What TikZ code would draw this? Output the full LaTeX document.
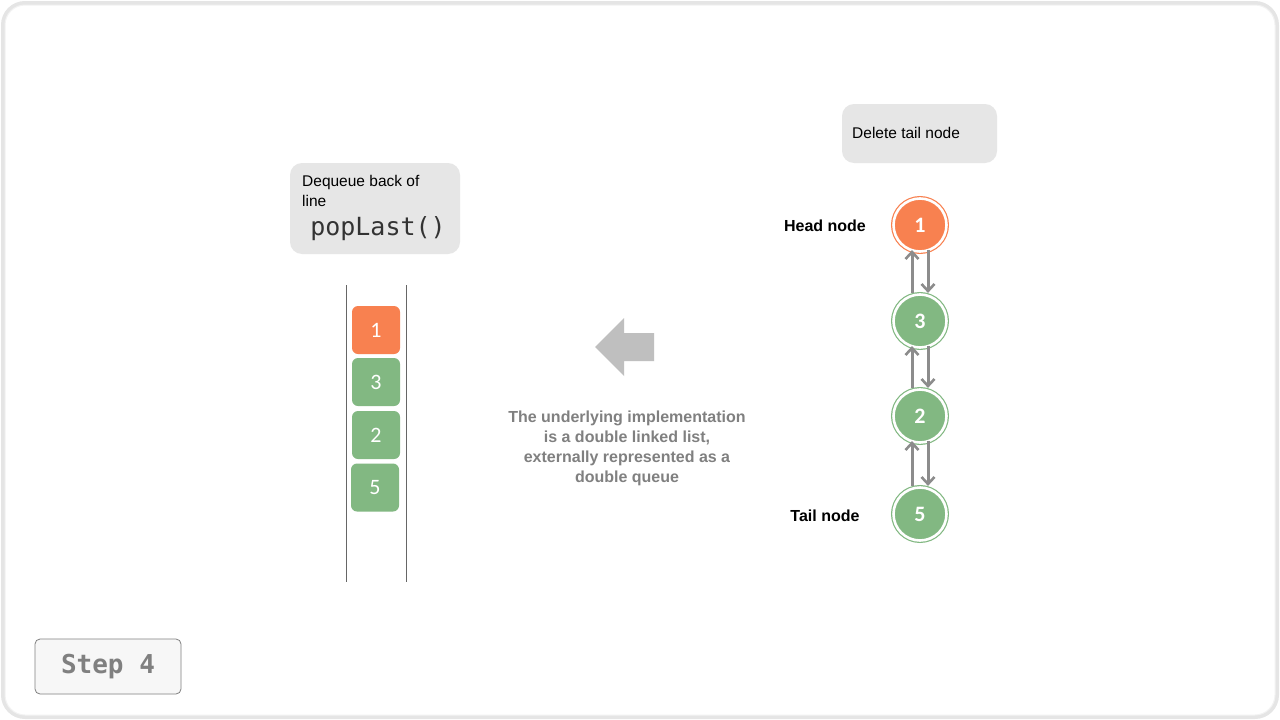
\documentclass[tikz,border=0pt]{standalone}
\usepackage{fontspec}
\setmainfont{Liberation Sans}
\setmonofont{DejaVu Sans Mono}
\newfontfamily\numfont{Carlito}
\usetikzlibrary{arrows.meta}
\definecolor{orng}{HTML}{F88150}
\definecolor{grn}{HTML}{82B882}
\definecolor{boxgray}{HTML}{E6E6E6}
\definecolor{txtgray}{HTML}{808080}
\definecolor{arrgray}{HTML}{8C8C8C}
\tikzset{
  note/.style={fill=boxgray, rounded corners=12pt, draw=none},
  stackbox/.style={rounded corners=6pt, minimum width=48pt, minimum height=48pt, inner sep=0pt, text=white, font=\numfont\fontsize{22}{24}\selectfont},
  lnode/.style={circle, minimum size=53pt, inner sep=0pt, line width=1.2pt, double=white, double distance=2.6pt, text=white, font=\numfont\bfseries\fontsize{22}{24}\selectfont},
  link/.style={draw=arrgray, line width=3pt, -{Straight Barb[length=7pt,width=13pt,line width=2.6pt]}},
  lbl/.style={font=\bfseries\fontsize{16}{19}\selectfont, text=black},
}
\begin{document}
\begin{tikzpicture}[x=1pt,y=-1pt]
\useasboundingbox (0,0) rectangle (1280,720);
% frame
\draw[draw=black!10, line width=4pt, rounded corners=22pt] (3,3) rectangle (1277,717);
\draw[draw=black!5, line width=1pt, fill=white, rounded corners=20pt] (5,5) rectangle (1275,715);

% Dequeue note
\draw[note] (290,163) rectangle (460,254);
\node[anchor=west, align=left, inner sep=0pt, font=\fontsize{15.5}{20}\selectfont] (dq) at (302,191) {Dequeue back of\\line};
\node[font=\ttfamily\fontsize{25}{28}\selectfont, text=black!80, inner sep=0pt] (pl) at (378,228.5) {popLast()};

% stack walls
\draw[draw=black!60, line width=1pt] (346,285) coordinate (wl1) -- (346,582) coordinate (wl2);
\draw[draw=black!60, line width=1pt] (406,285) coordinate (wr1) -- (406,582) coordinate (wr2);

% stack elements
\node[stackbox, fill=orng] (s1) at (376,330) {1};
\node[stackbox, fill=grn] (s3) at (376,382) {3};
\node[stackbox, fill=grn] (s2) at (376,435) {2};
\node[stackbox, fill=grn] (s5) at (375,487.5) {5};

% big arrow
\fill[black!25] (595,347) -- (624,318) -- (624,333) -- (654,333) -- (654,361) -- (624,361) -- (624,376) -- cycle;

% description
\node[align=center, text=txtgray, font=\bfseries\fontsize{16}{20}\selectfont, inner sep=0pt] (desc) at (627,448) {The underlying implementation\\is a double linked list,\\externally represented as a\\double queue};

% Delete tail note
\draw[note] (842,104) rectangle (997,163);
\node[anchor=west, inner sep=0pt, font=\fontsize{15.5}{18}\selectfont] (dt) at (852,133) {Delete tail node};

% linked list
\node[lnode, fill=orng, draw=orng] (c1) at (920,225) {1};
\node[lnode, fill=grn, draw=grn] (c3) at (920,321) {3};
\node[lnode, fill=grn, draw=grn] (c2) at (920,416) {2};
\node[lnode, fill=grn, draw=grn] (c5) at (920,514) {5};

\node[lbl] (hn) at (825,226) {Head node};
\node[lbl] (tn) at (825,516) {Tail node};

\draw[link] ([xshift=-8pt,yshift=1pt]c3.north) -- ([xshift=-8pt,yshift=2pt]c1.south);
\draw[link] ([xshift=8pt,yshift=2pt]c1.south) -- ([xshift=8pt,yshift=1pt]c3.north);
\draw[link] ([xshift=-8pt,yshift=1pt]c2.north) -- ([xshift=-8pt,yshift=2pt]c3.south);
\draw[link] ([xshift=8pt,yshift=2pt]c3.south) -- ([xshift=8pt,yshift=1pt]c2.north);
\draw[link] ([xshift=-8pt,yshift=1pt]c5.north) -- ([xshift=-8pt,yshift=2pt]c2.south);
\draw[link] ([xshift=8pt,yshift=2pt]c2.south) -- ([xshift=8pt,yshift=1pt]c5.north);

% Step box
\draw[fill=black!3, draw=black!50, line width=0.8pt, rounded corners=5pt] (35,639) rectangle (181,694);
\node[font=\ttfamily\bfseries\fontsize{26}{28}\selectfont, text=txtgray, inner sep=0pt] (step4) at (108,667) {Step 4};
\end{tikzpicture}
\end{document}
